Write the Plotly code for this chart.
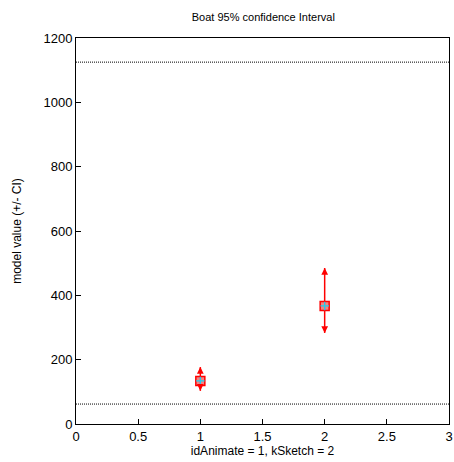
import plotly.graph_objects as go

x_vals = [1, 2]
y_vals = [134, 367]
ci_plus = [43, 118]
ci_minus = [31, 84]
ref_lines = [1125, 62]
x_ticks = [0, 0.5, 1, 1.5, 2, 2.5, 3]
y_ticks = [0, 200, 400, 600, 800, 1000, 1200]

fig = go.Figure()

for yr in ref_lines:
    fig.add_trace(go.Scatter(x=[0, 3], y=[yr, yr], mode="lines",
                             line=dict(color="black", width=1, dash="1px,1px"),
                             showlegend=False, hoverinfo="skip"))

# error bar lines
for xv, yv, p, m in zip(x_vals, y_vals, ci_plus, ci_minus):
    fig.add_trace(go.Scatter(x=[xv, xv], y=[yv - m, yv + p], mode="lines",
                             line=dict(color="red", width=1.5),
                             showlegend=False, hoverinfo="skip"))
    fig.add_annotation(x=xv, y=yv + p, ax=xv, ay=yv + p - 20, xref="x", yref="y",
                       axref="x", ayref="y", showarrow=True, arrowhead=2,
                       arrowsize=0.9, arrowwidth=1.5, arrowcolor="red", text="")
    fig.add_annotation(x=xv, y=yv - m, ax=xv, ay=yv - m + 20, xref="x", yref="y",
                       axref="x", ayref="y", showarrow=True, arrowhead=2,
                       arrowsize=0.9, arrowwidth=1.5, arrowcolor="red", text="")

fig.add_trace(go.Scatter(x=x_vals, y=y_vals, mode="markers",
                         marker=dict(symbol="square", size=9,
                                     color="rgba(240,120,120,0.9)", line=dict(width=1.5, color="red")),
                         showlegend=False))
fig.add_trace(go.Scatter(x=x_vals, y=y_vals, mode="markers",
                         marker=dict(symbol="cross-thin-open", size=6,
                                     line=dict(width=1.2, color="#2020d0")),
                         showlegend=False))

fig.update_layout(
    width=454, height=462,
    margin=dict(l=76, r=5, t=38, b=38, autoexpand=False),
    paper_bgcolor="white", plot_bgcolor="white",
    font=dict(family="Liberation Sans, Arial, sans-serif", size=12, color="black"),
    title=dict(text="Boat 95% confidence Interval", x=0.58, xanchor="center",
               y=0.963, yanchor="middle", font=dict(size=11)),
)
fig.update_xaxes(range=[0, 3], tickvals=x_ticks, ticktext=[str(t) for t in x_ticks],
                 showgrid=False, zeroline=False, showline=True, linecolor="black",
                 linewidth=1, mirror=True, ticks="inside", ticklen=5, tickcolor="black",
                 automargin=False,
                 title=dict(text="idAnimate = 1, kSketch = 2", standoff=2, font=dict(size=12)),
                 tickfont=dict(size=13))
fig.update_yaxes(range=[0, 1200], tickvals=y_ticks, ticktext=[str(t) for t in y_ticks],
                 showgrid=False, zeroline=False, showline=True, linecolor="black",
                 linewidth=1, mirror=True, ticks="inside", ticklen=5, tickcolor="black",
                 automargin=False,
                 title=dict(text="model value (+/- CI)", standoff=19, font=dict(size=12)),
                 tickfont=dict(size=13))

fig.write_html("out.html", config={"displayModeBar": False},
               post_script="document.body.style.margin='0';")
